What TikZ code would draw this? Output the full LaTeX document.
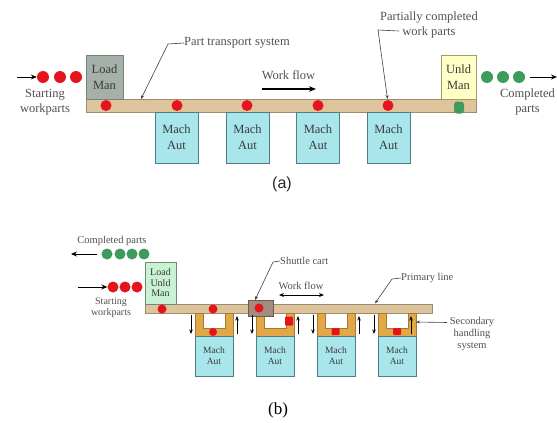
\documentclass[tikz,border=0pt]{standalone}
\usepackage{fontspec}
\setmainfont{Liberation Serif}
\newfontfamily\capsans{Liberation Sans}
\usetikzlibrary{arrows.meta}

\definecolor{beltfill}{HTML}{DDC49C}
\definecolor{beltedge}{HTML}{9E8A6C}
\definecolor{machfill}{HTML}{A8E6EC}
\definecolor{machedge}{HTML}{4F7F86}
\definecolor{loadfill}{HTML}{A4B0A8}
\definecolor{loadedge}{HTML}{77837C}
\definecolor{unldfill}{HTML}{FFFFC6}
\definecolor{unldedge}{HTML}{A69868}
\definecolor{lufill}{HTML}{C8F2D2}
\definecolor{luedge}{HTML}{6E8C74}
\definecolor{secfill}{HTML}{E2A848}
\definecolor{secedge}{HTML}{A87A30}
\definecolor{cartfill}{HTML}{A28C80}
\definecolor{cartedge}{HTML}{6E5A50}
\definecolor{partred}{HTML}{E5141C}
\definecolor{partgreen}{HTML}{3F9A5E}
\definecolor{txtgray}{HTML}{505050}
\definecolor{boxtxt}{HTML}{3A3A3A}

\tikzset{
  belt/.style={draw=beltedge, fill=beltfill, line width=0.7pt, inner sep=0pt},
  stationbox/.style={line width=0.8pt, inner sep=0pt, align=center, text=boxtxt},
  machA/.style={stationbox, draw=machedge, fill=machfill, minimum width=43pt, minimum height=51pt,
    font=\fontsize{12.5}{16}\selectfont},
  machB/.style={stationbox, draw=machedge, fill=machfill, minimum width=38pt, minimum height=40pt,
    font=\fontsize{9.5}{11}\selectfont},
  reddot/.style={circle, fill=partred, inner sep=0pt, minimum size=#1},
  reddot/.default=11pt,
  greendot/.style={circle, fill=partgreen, inner sep=0pt, minimum size=#1},
  greendot/.default=12pt,
  redsq/.style={rectangle, rounded corners=1pt, fill=partred, inner sep=0pt, minimum width=8pt, minimum height=8pt},
  lblA/.style={text=txtgray, align=center, font=\fontsize{12.5}{15.5}\selectfont, inner sep=0pt},
  lblB/.style={text=txtgray, align=center, font=\fontsize{10.5}{12}\selectfont, inner sep=0pt},
  feed/.style={line width=0.9pt, -{Stealth[length=6pt,width=5pt]}},
  flowarrow/.style={line width=1.4pt, -{Stealth[length=7pt,width=5.5pt]}},
  leader/.style={draw=black!75, line width=0.6pt, -{Stealth[length=4pt,width=3pt]}},
  xferarrow/.style={line width=0.8pt, -{Stealth[length=4.5pt,width=3.5pt]}},
  uframe/.style={draw=secedge, fill=secfill, line width=0.6pt},
}

\begin{document}
\begin{tikzpicture}[x=1pt,y=-1pt]
\useasboundingbox (0,0) rectangle (557,423);

% ---------------- (a) in-line transfer line ----------------
\node[belt, minimum width=390pt, minimum height=13pt] (beltA) at (281,105.5) {};

\node[stationbox, draw=loadedge, fill=loadfill, minimum width=37pt, minimum height=44pt,
      font=\fontsize{12.5}{16}\selectfont] (loadA) at (104.5,77) {Load\\Man};
\node[stationbox, draw=unldedge, fill=unldfill, minimum width=35pt, minimum height=44pt,
      font=\fontsize{12.5}{16}\selectfont] (unldA) at (458.5,77) {Unld\\Man};

\foreach \i/\x in {1/176.5,2/247.5,3/318,4/388.5}
  \node[machA] (machA\i) at (\x,137.5) {Mach\\Aut};

\foreach \i/\x in {1/106,2/177,3/247,4/318,5/388}
  \node[reddot] (onbelt\i) at (\x,105.5) {};
\node[rectangle, rounded corners=3pt, fill=partgreen, inner sep=0pt,
      minimum width=10pt, minimum height=12pt] (doneA) at (459,107.5) {};

% starting parts
\foreach \i/\x in {1/43,2/60,3/76}
  \node[reddot=12pt] (startA\i) at (\x,77) {};
\coordinate (feedA) at (17,77);
\draw[feed] (feedA) -- (startA1.west);
\node[lblA] (startlblA) at (45,102) {Starting\\workparts};

% completed parts
\foreach \i/\x in {1/487,2/503,3/519}
  \node[greendot] (doneA\i) at (\x,77) {};
\coordinate (outAstart) at (530,77);
\coordinate (outA) at (557,77);
\draw[feed] (outAstart) -- (outA);
\node[lblA] (donelblA) at (527.5,102) {Completed\\parts};

% labels with leaders
\node[lblA, anchor=west] (ptsLbl) at (184,43) {Part transport system};
\coordinate (ptsTip) at (141,99);
\draw[leader] (ptsLbl.west) -- ++(-16,1) -- (ptsTip);

\node[lblA] (pcLbl) at (429,25) {Partially completed\\work parts};
\coordinate (pcStart) at (399,31);
\coordinate (pcTip) at (387.5,99);
\draw[leader] (pcStart) -- ++(-21,-1) -- (pcTip);

\node[lblA] (flowA) at (288.5,75) {Work flow};
\coordinate (flowAs) at (262,89);
\coordinate (flowAe) at (316,89);
\draw[flowarrow] (flowAs) -- (flowAe);

\node[font=\capsans\fontsize{16}{18}\selectfont, text=black!85, inner sep=0pt] (capA) at (282,184) {(a)};

% ---------------- (b) transfer line with shuttle carts ----------------
\node[belt, minimum width=287pt, minimum height=9pt] (beltB) at (288.5,308.5) {};

\node[stationbox, draw=luedge, fill=lufill, minimum width=31pt, minimum height=42pt,
      font=\fontsize{10}{10.5}\selectfont] (luB) at (160.5,283) {Load\\Unld\\Man};

% secondary handling frames and machines
\foreach \i/\c in {1/214,2/275,3/336,4/397}{
  \draw[uframe] (\c-19,313) -- (\c-11,313) -- (\c-11,328) -- (\c+11,328) -- (\c+11,313)
     -- (\c+19,313) -- (\c+19,336) -- (\c-19,336) -- cycle;
  \node[machB] (machB\i) at (\c,356) {Mach\\Aut};
}

% shuttle cart on the primary line
\node[draw=cartedge, fill=cartfill, line width=0.7pt, inner sep=0pt,
      minimum width=25pt, minimum height=16pt] (cartB) at (260.5,308) {};

% parts on the line and in the secondary systems
\node[reddot=9pt] (onlineB1) at (162,309) {};
\node[reddot=9pt] (onlineB2) at (213,309) {};
\node[reddot=9pt] (incart) at (259,308) {};
\node[reddot=8pt] (atmach1) at (213,332) {};
\node[redsq, minimum height=9pt] (atmach2) at (289,321) {};
\node[redsq, minimum height=7pt] (atmach3) at (335.5,331.5) {};
\node[redsq, minimum height=7pt] (atmach4) at (397,331.5) {};

% transfer arrows beside each station
\foreach \c in {214,275,336,397}{
  \coordinate (dnS) at (\c-23,315);
  \coordinate (dnE) at (\c-23,334);
  \draw[xferarrow] (dnS) -- (dnE);
}
\foreach \c in {214,275,336}{
  \coordinate (upS) at (\c+23,334);
  \coordinate (upE) at (\c+23,316);
  \draw[xferarrow] (upS) -- (upE);
}
\coordinate (up4S) at (411,334);
\coordinate (up4E) at (411,316);
\draw[xferarrow] (up4S) -- (up4E);

% completed and starting parts
\node[lblB] (donelblB) at (112,241) {Completed parts};
\foreach \i/\x in {1/107,2/120,3/132,4/144}
  \node[greendot=11pt] (doneB\i) at (\x,254) {};
\coordinate (outBstart) at (97,254);
\coordinate (outB) at (71,254);
\draw[feed, line width=0.8pt] (outBstart) -- (outB);

\foreach \i/\x in {1/113,2/125,3/137}
  \node[reddot=11pt] (startB\i) at (\x,287) {};
\coordinate (feedB) at (78,287);
\draw[feed, line width=0.8pt] (feedB) -- (startB1.west);
\node[lblB, font=\fontsize{10}{11}\selectfont] (startlblB) at (111,307.5) {Starting\\workparts};

% labels with leaders
\node[lblB, anchor=west] (cartLbl) at (280,261) {Shuttle cart};
\coordinate (cartTip) at (255,300);
\draw[leader] (cartLbl.west) -- ++(-7,1) -- (cartTip);

\node[lblB] (flowB) at (301,286) {Work flow};
\coordinate (flowBs) at (279,295);
\coordinate (flowBe) at (324,295);
\draw[line width=0.9pt, {Stealth[length=5pt,width=4pt]}-{Stealth[length=5pt,width=4pt]}] (flowBs) -- (flowBe);

\node[lblB, anchor=west] (plLbl) at (401,278) {Primary line};
\coordinate (plTip) at (375,303.5);
\draw[leader] (plLbl.west) -- ++(-9,1) -- (plTip);

\node[lblB] (secLbl) at (472,334) {Secondary\\handling\\system};
\coordinate (secStart) at (447,322.5);
\coordinate (secTip) at (416,322);
\draw[leader] (secStart) -- (secTip);

\node[font=\fontsize{17}{19}\selectfont, inner sep=0pt] (capB) at (278,410) {(b)};
\end{tikzpicture}
\end{document}
